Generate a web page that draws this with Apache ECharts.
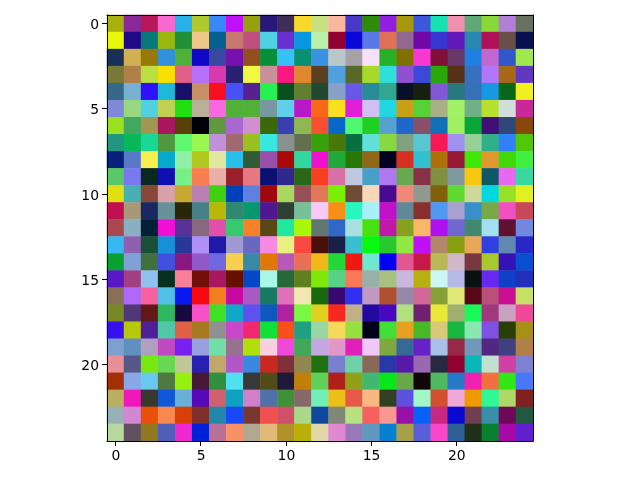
<!DOCTYPE html>
<html>
<head>
<meta charset="utf-8">
<style>html,body{margin:0;padding:0;background:#fff}#c{width:640px;height:480px}</style>
<script src="https://cdn.jsdelivr.net/npm/echarts@6/dist/echarts.min.js"></script>
</head>
<body>
<div id="c"></div>
<script>
const row0=['a8b010','8a2a9a','b8185a','f868d0','28b0e8','b0c830','3888f8','c010f8','98a010','281878','402c58','f8d828','c8e080','f8b8a0','4838c8','2c8c08','9020e0','a89810','3c58d8','18e0b0','f090b0','60a878','88d838','b080d8','687060'];
const row1=['e8f808','200888','087878','98b810','209038','f0c888','086090','c87870','c05080','50d0e0','6830d0','0898e0','b8f0a8','900030','0808d8','5878e8','e07058','906890','7008a8','3838d0','6018b8','2888b0','b01058','685048','081050'];
const row2=['183058','d0b050','987800','3090d8','50b038','1008c8','3848a0','7810b0','905020','089038','38c0f8','089070','3c90e0','b8c8c8','a8a0a8','f8e0f8','28b028','807000','f838d0','801038','683868','2080e0','c068d0','3058c8','a0e850'];
const row3=['787838','b08048','b8e040','f8e000','e06088','b870f8','d838b0','282070','f0f840','c89098','f81880','e08830','584020','50a0e0','586828','a8d828','30e0d8','9050d0','3c48d8','28a808','583018','3870c0','b078f8','a86818','6038c0'];
const row4=['386888','78b0d0','3010f8','20b8d8','181068','c89068','f81020','4850f8','582090','28f050','085020','608030','204830','88a0c8','6858e8','288c98','30a890','081028','182010','8058d8','287880','3870b8','1898e0','086818','f0f020'];
const row5=['8088d8','98d880','50d0e0','c0d050','20e010','b8b098','f868e0','50b038','50b038','7898a0','60d0e8','b818c8','f86818','f8e020','e020d8','d0c0f0','20d8e0','c8a018','58d038','a8b088','a0f068','70b088','b8e030','d0e0d8','c82898'];
const row6=['98e020','40a860','a09850','a81860','584008','000008','609840','a868d0','d090d0','386808','3840b0','90b850','f85030','0868c8','50f870','20d020','58a0d0','2068c8','885068','1070b8','a0f060','08a838','401078','304878','884808'];
const row7=['209880','08b858','18d898','509840','60f870','98f850','c090d8','a06870','98c020','38e8e0','889090','607050','38a008','487808','087040','60e0d8','88d840','80a080','58c8d0','f81858','a090f0','98d098','30b088','3080f8','50c808'];
const row8=['082078','5878c8','f8f050','08a8c8','90f0a8','b0c820','e0e8a0','28c0e8','305c38','9850a8','a80808','30d8a0','f010d0','20a838','287808','906818','000020','d83020','30c0d0','b07008','981838','40e808','e09830','40d808','40f040'];
const row9=['58c868','7878f0','082820','1010b0','78f088','f88050','e8b0a8','982028','e87880','081070','302890','286818','f84020','d870a8','c0c8e0','48a0c8','b078f0','68a850','883048','809040','8098a0','f8c810','105868','e868f0','38d8a0'];
const row10=['e0e010','48b0b0','884838','d8a0a8','c8a830','b880b0','40d010','0040b8','6080e0','a00810','a8d860','985058','e07858','78f000','704c38','f8d8b8','480890','f08878','909890','806008','60d830','d0d898','00d8e0','98e028','e0f020'];
const row11=['c01050','a89878','182860','689098','282808','488088','b8b808','308870','089870','501890','304030','78c098','f8c8f8','f89018','28f8c0','a8f0f8','c010c8','608898','883030','5098f0','a8a0d0','3890c8','78a848','f050c0','c84858'];
const row12=['a84850','88b0c0','002038','f010d8','583098','886880','e050a8','38c870','f88028','584818','20e8a0','a8f808','607870','3068c8','a8e0e0','48e010','c018a8','88a020','f8b868','b010f0','7068d0','408870','a0e0f0','601030','7088e0'];
const row13=['38b8f0','9060b0','185038','1890d8','283898','b090f8','2018a8','a098d0','6868c0','f888e0','e8f080','f84840','481008','182048','38c0d0','08f810','28c830','90e840','c010f8','b08868','88a010','e8a858','3040e0','6088b0','2828c8'];
const row14=['08a030','80a0d8','407040','4050e0','881880','9058c8','7068e0','f8d050','3888a8','e07808','b858b8','e87058','f0b818','20d838','f01810','70e8d0','0000f8','e05890','c81848','b8b858','d0b8c8','783840','a8c830','3810b8','0850d0'];
const row15=['5818c8','a04080','90c0f0','083020','f88098','701008','a81860','681000','0848c8','a8f8e8','286838','608020','80e808','58d088','f87858','98b0a8','a8c080','c8b8e0','b8b010','c8f8f0','b8b8e8','081010','6828f0','1040c8','2030b8'];
const row16=['887058','b068f8','f860a0','50c0e8','0818f0','f80810','f08020','c808a0','a858c0','187860','e070b8','f0e8b0','186810','380870','3030f0','c098c0','b05030','9888a8','d06898','88a038','e0e878','580818','b85078','c81090','c8e068'];
const row17=['788828','503878','601818','30b860','180840','f850c8','40e028','10a8c8','6050f0','1058c0','b020a0','78f840','e0d020','f82820','c0b088','2008a0','4808c0','b0e080','702070','e8e838','a0b070','18f858','a03880','c8a0c0','f04898'];
const row18=['3810f0','b8c808','502098','50c8a8','e06048','a87820','909090','c848c8','f02870','10e038','f85018','20a080','98d8a0','f8d858','98e040','000018','40e038','e8a020','48b828','d8c878','18b840','88e8b0','8050e0','284008','a89018'];
const row19=['7ea0d0','6090c0','b0a0c0','c048c0','7820f0','98a0e0','70e0a8','987090','b0e008','f8d0e0','f048d8','40a858','c0a8e0','e098c8','e020b8','f0c8f8','80a840','386898','6820c8','a8c0e8','982848','7098b8','502880','404080','b08048'];
const row20=['e89098','585888','78e810','68d850','c0c898','2820b0','c0a868','b058c8','3888e0','c82820','803038','908850','207010','7880d0','70d0a8','886858','2838a8','5818a8','9868b0','282840','900030','08b8b8','c0e0d0','d040a0','8080d0'];
const row21=['a03008','88a8e8','68c8f0','507840','98f010','481838','309040','50e0f0','383838','504c18','201838','c08008','60d058','b02018','90a018','40b870','08e818','68a848','100808','50b860','2878c8','f020b0','f07040','30e818','4878f8'];
const row22=['b8b060','f018b8','383830','1058d8','68b0d8','5808b8','d06070','10a0c0','d080c8','5070a8','409038','886868','70f0b8','e8c018','e85848','f8b880','304020','6050e0','a0f8c8','d05030','f0a8d8','f09800','30f898','b0d868','802020'];
const row23=['98b0b8','d088d0','e85008','f88850','d84008','803028','2088a8','1848f8','783830','f05050','d05068','a8d888','1048a0','808878','b8e080','f86060','f89890','9810a8','0860f8','c82880','0808d0','704050','3890a8','700858','205840'];
const row24=['b8d8a0','605060','907820','5060b8','f028d0','0020d8','b87098','f89068','b0a890','e0b878','b09028','b8b008','e0d8a8','e088d0','9878b8','6098c0','0880d0','a8a048','5860d8','f848c8','306098','203018','088030','a808a8','6020d0'];
const rows=[row0,row1,row2,row3,row4,row5,row6,row7,row8,row9,row10,row11,row12,row13,row14,row15,row16,row17,row18,row19,row20,row21,row22,row23,row24];
const cats=rows.map((_,i)=>String(i));
const tickEvery=5;
const cells=[];
rows.forEach((r,y)=>r.forEach((c,x)=>cells.push({value:[x,y,1],itemStyle:{color:'#'+c}})));
const font={fontFamily:'DejaVu Sans',fontSize:13.9,color:'#000'};
const line={show:true,onZero:false,lineStyle:{color:'#000',width:1}};
const mainAxis=(pos,inv,pad)=>({type:'category',data:cats,position:pos,inverse:inv,z:10,
  axisLine:line,
  axisTick:{show:true,alignWithLabel:true,interval:tickEvery-1,length:5,lineStyle:{color:'#000',width:1}},
  axisLabel:{show:true,interval:tickEvery-1,margin:8,...font,
    formatter:'{t|{value}}',rich:{t:{...font,padding:pad}}},
  splitLine:{show:false},splitArea:{show:false}});
const edgeAxis=(pos,inv)=>({type:'category',data:cats,position:pos,inverse:inv,z:10,
  axisLine:line,axisTick:{show:false},axisLabel:{show:false},splitLine:{show:false}});
const chart=echarts.init(document.getElementById('c'),null,{renderer:'canvas'});
chart.setOption({
  animation:false,
  backgroundColor:'#fff',
  grid:{left:107,top:15,width:426,height:426,containLabel:false},
  xAxis:[mainAxis('bottom',false,[0,0,0,1]),edgeAxis('top',false)],
  yAxis:[mainAxis('left',true,[4,0,0,0]),edgeAxis('right',true)],
  series:[{type:'heatmap',data:cells,xAxisIndex:0,yAxisIndex:0,progressive:0,
    itemStyle:{borderWidth:0},emphasis:{disabled:true}}]
});
</script>
</body>
</html>
